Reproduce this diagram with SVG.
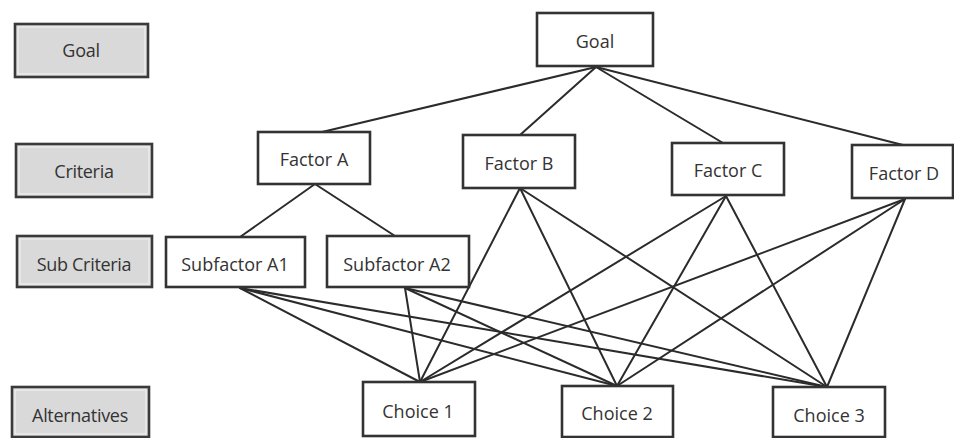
<svg xmlns="http://www.w3.org/2000/svg" width="954" height="438" viewBox="0 0 954 438">
  <style>
    .box { fill: #ffffff; stroke: #333333; stroke-width: 2.6; }
    .lvl { fill: #d9d9d9; stroke: #3a3a3a; stroke-width: 2.6; }
    .lvl-in { fill: none; stroke: #f4f4f4; stroke-width: 1; }
    .lbl { font-family: "Open Sans", "Noto Sans", "Liberation Sans", sans-serif; font-size: 18px; fill: #333333; text-anchor: middle; dominant-baseline: central; }
    .lvl-t { font-size: 18px; letter-spacing: -0.3px; }
    #connectors line { stroke: #2b2b2b; stroke-width: 2; stroke-linecap: round; }
  </style>

  <!-- level legend -->
  <g id="legend-goal"><rect class="lvl" x="15" y="24" width="133" height="53"/><rect class="lvl-in" x="18" y="27" width="127" height="47"/><text class="lbl lvl-t" x="81" y="50">Goal</text></g>
  <g id="legend-criteria"><rect class="lvl" x="16" y="144" width="136" height="53"/><rect class="lvl-in" x="19" y="147" width="130" height="47"/><text class="lbl lvl-t" x="84" y="171">Criteria</text></g>
  <g id="legend-subcriteria"><rect class="lvl" x="17" y="236" width="135" height="51"/><rect class="lvl-in" x="20" y="239" width="129" height="45"/><text class="lbl lvl-t" x="84" y="264">Sub Criteria</text></g>
  <g id="legend-alternatives"><rect class="lvl" x="12" y="387" width="137" height="50"/><rect class="lvl-in" x="15" y="390" width="131" height="44"/><text class="lbl lvl-t" x="80" y="415">Alternatives</text></g>

  <!-- connectors -->
  <g id="connectors">
    <line x1="596" y1="67" x2="322" y2="132"/>
    <line x1="596" y1="67" x2="520" y2="135"/>
    <line x1="596" y1="67" x2="723" y2="143"/>
    <line x1="596" y1="67" x2="903" y2="145"/>

    <line x1="315" y1="184" x2="240" y2="237"/>
    <line x1="315" y1="184" x2="395" y2="236"/>

    <line x1="520" y1="188" x2="420" y2="382"/>
    <line x1="520" y1="188" x2="617" y2="386"/>
    <line x1="520" y1="188" x2="827" y2="387"/>

    <line x1="726" y1="196" x2="420" y2="382"/>
    <line x1="726" y1="196" x2="617" y2="386"/>
    <line x1="726" y1="196" x2="827" y2="387"/>

    <line x1="905" y1="199" x2="420" y2="382"/>
    <line x1="905" y1="199" x2="617" y2="386"/>
    <line x1="905" y1="199" x2="827" y2="387"/>

    <line x1="240" y1="288" x2="420" y2="382"/>
    <line x1="240" y1="288" x2="617" y2="386"/>
    <line x1="240" y1="288" x2="827" y2="387"/>

    <line x1="405" y1="288" x2="420" y2="382"/>
    <line x1="405" y1="288" x2="617" y2="386"/>
    <line x1="405" y1="288" x2="827" y2="387"/>
  </g>

  <!-- hierarchy nodes -->
  <g id="goal"><rect class="box" x="537" y="13" width="116" height="53"/><text class="lbl" x="595" y="41">Goal</text></g>

  <g id="factor-a"><rect class="box" x="258" y="132" width="112" height="52"/><text class="lbl" x="314" y="159">Factor A</text></g>
  <g id="factor-b"><rect class="box" x="463" y="135" width="112" height="53"/><text class="lbl" x="519" y="163">Factor B</text></g>
  <g id="factor-c"><rect class="box" x="672" y="143" width="112" height="52"/><text class="lbl" x="728" y="170">Factor C</text></g>
  <g id="factor-d"><rect class="box" x="852" y="145" width="101" height="53"/><text class="lbl" x="904" y="173">Factor D</text></g>

  <g id="subfactor-a1"><rect class="box" x="166" y="237" width="139" height="50"/><text class="lbl" x="235" y="264">Subfactor A1</text></g>
  <g id="subfactor-a2"><rect class="box" x="327" y="236" width="142" height="51"/><text class="lbl" x="397" y="264">Subfactor A2</text></g>

  <g id="choice-1"><rect class="box" x="363" y="382" width="112" height="54"/><text class="lbl" x="418" y="411">Choice 1</text></g>
  <g id="choice-2"><rect class="box" x="562" y="386" width="111" height="51"/><text class="lbl" x="617" y="413">Choice 2</text></g>
  <g id="choice-3"><rect class="box" x="773" y="387" width="112" height="50"/><text class="lbl" x="829" y="415">Choice 3</text></g>
</svg>
